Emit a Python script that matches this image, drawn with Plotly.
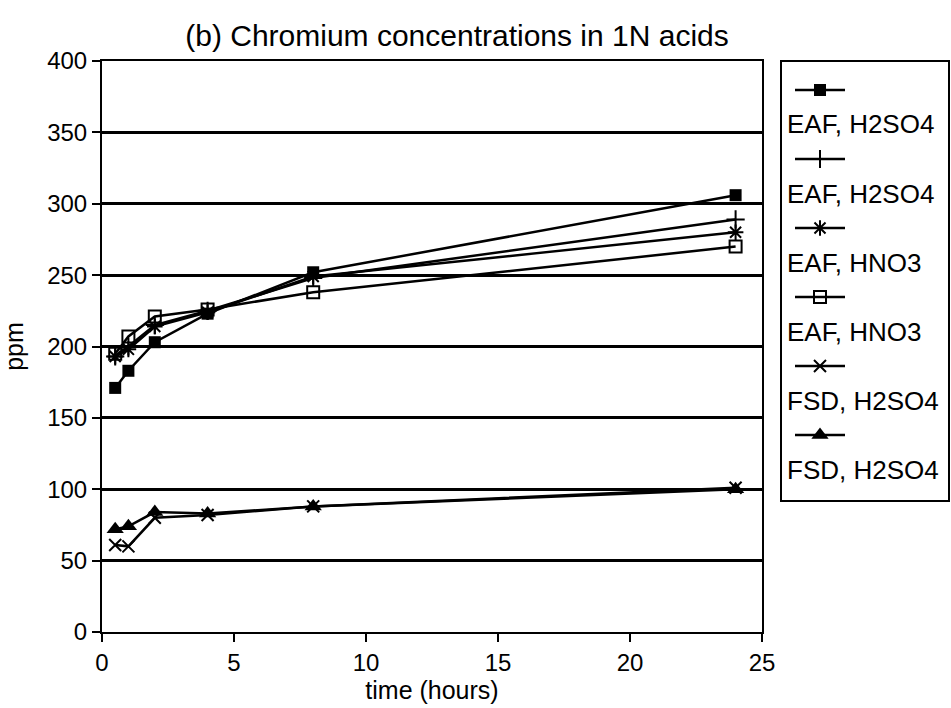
import plotly.graph_objects as go

# ---- data ----
time_h = [0.5, 1, 2, 4, 8, 24]
eaf_h2so4_a = [171, 183, 203, 223, 252, 306]
eaf_h2so4_b = [193, 200, 215, 225, 248, 289]
eaf_hno3_a = [193, 198, 214, 224, 249, 280]
eaf_hno3_b = [195, 207, 221, 226, 238, 270]
fsd_h2so4_a = [61, 60, 80, 82, 88, 101]
fsd_h2so4_b = [72, 74, 84, 83, 88, 100]

names = ["EAF, H2SO4", "EAF, H2SO4", "EAF, HNO3", "EAF, HNO3", "FSD, H2SO4", "FSD, H2SO4"]
series = [eaf_h2so4_a, eaf_h2so4_b, eaf_hno3_a, eaf_hno3_b, fsd_h2so4_a, fsd_h2so4_b]

# ---- styles ----
symbols = ["square", "cross-thin-open", "asterisk-open", "square-open", "x-thin-open", "triangle-up"]
sizes = [12, 13, 13, 12, 12, 15]
mline = [0, 2, 2, 2, 2, 0]

FONT = "Liberation Sans, Arial, sans-serif"
W, H = 951, 708
ML, MR, MT, MB = 102, 3, 61, 76
PW = W - ML - MR
plot_right = 762
leg_left, leg_right = 782, 948
leg_top, leg_bottom = 62, 500
PH = H - MT - MB

fig = go.Figure()
for ys, nm, sym, sz, lw in zip(series, names, symbols, sizes, mline):
    fig.add_trace(go.Scatter(
        x=time_h, y=ys, name=nm, mode="lines+markers",
        line=dict(color="black", width=2.5),
        marker=dict(symbol=sym, size=sz, color="black",
                    line=dict(color="black", width=lw)),
        showlegend=False, xaxis="x", yaxis="y"))

# ---- custom legend (symbol above text) in a separate box axis ----
leg_w = leg_right - leg_left
leg_h = leg_bottom - leg_top
row0 = 28
pitch = 34.5
annotations = []
for i, (nm, sym, sz, lw) in enumerate(zip(names, symbols, sizes, mline)):
    ys_line = row0 + pitch * (2 * i)
    ys_text = row0 + pitch * (2 * i + 1)
    fig.add_trace(go.Scatter(
        x=[13, 38, 63], y=[ys_line] * 3, mode="lines",
        line=dict(color="black", width=2.5), showlegend=False,
        hoverinfo="skip", xaxis="x2", yaxis="y2"))
    fig.add_trace(go.Scatter(
        x=[38], y=[ys_line], mode="markers",
        marker=dict(symbol=sym, size=sz, color="black",
                    line=dict(color="black", width=lw)),
        showlegend=False, hoverinfo="skip", xaxis="x2", yaxis="y2"))
    annotations.append(dict(
        x=3, y=ys_text, xref="x2", yref="y2", text=nm, showarrow=False,
        xanchor="left", yanchor="middle",
        font=dict(family=FONT, size=26, color="black")))

fig.update_layout(
    width=W, height=H,
    margin=dict(l=ML, r=MR, t=MT, b=MB, autoexpand=False),
    paper_bgcolor="white", plot_bgcolor="white",
    title=dict(text="(b) Chromium concentrations in 1N acids",
               x=457 / W, xanchor="center", xref="container",
               y=1 - 35 / H, yanchor="middle", yref="container",
               font=dict(family=FONT, size=30, color="black")),
    xaxis=dict(domain=[0, (plot_right - ML) / PW], range=[0, 25], dtick=5,
               showgrid=False, zeroline=False, automargin=False,
               showline=True, linecolor="black", linewidth=2, mirror=True,
               ticks="outside", ticklen=8, tickwidth=2, tickcolor="black",
               tickfont=dict(family=FONT, size=24, color="black"),
               title=dict(text="time (hours)", standoff=4,
                          font=dict(family=FONT, size=25, color="black"))),
    yaxis=dict(domain=[0, 1], range=[0, 400], dtick=50,
               showgrid=True, gridcolor="black", gridwidth=2.5, zeroline=False,
               automargin=False,
               showline=True, linecolor="black", linewidth=2, mirror=True,
               ticks="outside", ticklen=8, tickwidth=2, tickcolor="black",
               tickfont=dict(family=FONT, size=24, color="black"),
               title=dict(text="ppm", standoff=16,
                          font=dict(family=FONT, size=25, color="black"))),
    xaxis2=dict(domain=[(leg_left - ML) / PW, (leg_right - ML) / PW],
                range=[0, leg_w], showgrid=False, zeroline=False,
                showticklabels=False, ticks="", automargin=False,
                showline=True, linecolor="black", linewidth=1.5, mirror=True,
                anchor="y2", fixedrange=True),
    yaxis2=dict(domain=[(H - MB - leg_bottom) / PH, (H - MB - leg_top) / PH],
                range=[leg_h, 0], showgrid=False, zeroline=False,
                showticklabels=False, ticks="", automargin=False,
                showline=True, linecolor="black", linewidth=1.5, mirror=True,
                anchor="x2", fixedrange=True),
    annotations=annotations,
    showlegend=False,
)

fig.write_html("out.html")
